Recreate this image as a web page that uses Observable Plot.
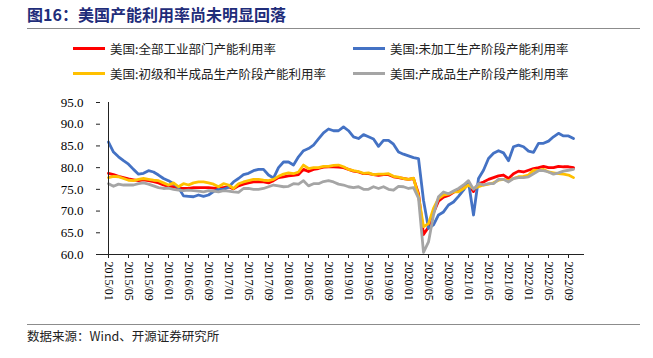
<!DOCTYPE html>
<html><head><meta charset="utf-8">
<script src="https://cdn.jsdelivr.net/npm/d3@7"></script>
<script src="https://cdn.jsdelivr.net/npm/@observablehq/plot@0.6"></script>
<style>
body{margin:0;background:#fff;}
#wrap{position:relative;width:653px;height:358px;overflow:hidden;font-family:"Noto Sans CJK SC",sans-serif;background:#fff;}
.title{position:absolute;left:27px;top:3px;font-size:16px;font-weight:bold;color:#1f2d7a;white-space:nowrap;line-height:22px;}
.hr{position:absolute;left:27px;width:613px;height:0;border-top:1.5px solid #8c8c8c;}
.leg{position:absolute;font-size:12.5px;color:#222;white-space:nowrap;display:flex;align-items:center;height:18px;}
.sw{display:inline-block;width:32px;height:3px;margin-right:5px;}
#chart{position:absolute;left:0;top:90px;}
#chart svg, #chart svg text{font-family:"Liberation Serif","Times New Roman",serif !important;}
.src{position:absolute;left:27px;top:327px;font-size:12.5px;color:#222;white-space:nowrap;line-height:18px;}
</style></head>
<body>
<div id="wrap">
  <div class="title">图16：美国产能利用率尚未明显回落</div>
  <div class="hr" style="top:28px"></div>
  <div id="legend"></div>
  <div id="chart"></div>
  <div class="hr" style="top:324px"></div>
  <div class="src">数据来源：Wind、开源证券研究所</div>
</div>
<script>
// Categories: monthly 2015/01 .. 2022/10
const categories = [];
for (let y = 2015; y <= 2022; y++) for (let m = 1; m <= 12; m++) categories.push(`${y}/${String(m).padStart(2, "0")}`);
categories.length = 94;
const tickLabels = categories.filter((d, i) => i % 4 === 0);
const yTicks = [60, 65, 70, 75, 80, 85, 90, 95];

const seriesNames = ["美国:全部工业部门产能利用率", "美国:未加工生产阶段产能利用率", "美国:初级和半成品生产阶段产能利用率", "美国:产成品生产阶段产能利用率"];
const seriesColors = ["#ff0000", "#4472c4", "#ffc000", "#a5a5a5"];

const totalIndustry = [78.7,78.4,78.0,77.7,77.4,77.2,77.0,77.2,77.0,76.8,76.5,76.0,75.7,75.6,75.3,75.2,75.2,75.4,75.4,75.4,75.4,75.3,75.2,75.4,75.6,75.1,75.8,76.2,76.5,76.7,76.8,76.7,76.5,77.0,77.7,77.9,78.1,78.2,78.4,79.6,79.1,79.6,79.8,80.1,80.2,80.2,80.1,80.0,79.6,79.2,79.0,78.6,78.6,78.4,78.2,78.4,78.4,77.9,77.7,77.5,77.3,77.5,74.0,64.6,66.3,69.6,72.3,73.2,73.6,74.3,75.0,75.6,76.0,74.5,76.3,76.7,77.3,77.7,78.1,78.3,77.5,78.6,79.2,79.0,79.4,79.8,80.0,80.3,80.0,80.0,80.3,80.2,80.2,80.0];
const crude = [85.9,83.6,82.5,81.6,80.8,79.6,78.5,78.7,79.3,79.0,78.3,77.5,77.0,76.3,75.4,73.5,73.4,73.3,73.7,73.4,73.7,74.5,75.0,75.0,75.5,76.7,77.5,78.4,78.7,79.3,79.6,79.6,78.3,77.6,80.0,81.3,81.3,80.6,82.5,83.9,84.4,85.2,86.6,88.0,88.9,88.5,88.5,89.4,88.5,87.1,86.7,87.6,87.1,86.6,84.9,86.3,86.3,85.4,83.6,83.1,82.7,82.3,82.1,72.5,66.0,66.8,69.1,69.8,71.4,72.1,73.4,74.8,76.7,69.1,77.5,79.4,82.1,83.3,83.9,83.4,81.6,84.8,85.2,84.8,83.8,83.5,85.6,85.6,86.1,87.1,87.9,87.3,87.3,86.7];
const primarySemi = [77.7,78.0,77.9,77.5,77.1,77.0,77.3,77.5,77.3,77.1,77.0,76.5,76.0,76.5,75.6,76.3,76.0,76.5,76.7,76.7,76.5,76.2,75.6,76.3,76.0,75.2,76.3,76.7,77.0,77.3,77.3,77.1,77.0,77.3,78.0,78.5,78.8,78.6,79.0,80.6,79.8,80.0,80.0,80.3,80.3,80.5,80.6,80.2,79.6,79.3,79.1,78.7,78.8,78.4,78.5,78.5,78.6,78.0,77.8,77.5,77.3,77.6,73.5,66.4,67.1,70.6,72.9,73.7,73.9,74.4,74.4,75.2,76.0,75.2,75.6,76.0,76.2,76.5,77.1,77.3,77.0,77.5,77.9,78.0,78.3,79.4,79.3,79.6,79.0,78.8,78.6,78.5,78.3,77.7];
const finished = [76.3,75.7,76.2,76.0,76.0,76.0,76.3,76.5,76.2,75.8,75.4,75.2,75.3,75.0,74.8,74.7,74.8,74.7,74.6,74.4,74.7,74.6,74.4,74.7,74.6,74.4,74.3,75.2,75.2,75.0,75.0,75.2,75.6,76.0,75.8,75.6,75.7,76.3,76.2,77.0,75.8,76.3,76.3,76.8,77.0,76.7,76.2,76.0,75.6,75.4,75.6,75.0,75.0,75.6,75.2,75.6,75.0,74.8,75.7,75.6,75.2,75.4,73.0,60.5,62.9,69.1,73.3,74.4,74.0,74.6,75.2,76.0,77.0,75.0,76.3,76.0,76.3,76.3,77.3,77.3,76.7,77.5,77.7,77.7,77.9,78.6,79.3,79.3,79.0,78.5,78.8,79.2,79.4,79.6];

const allSeries = [totalIndustry, crude, primarySemi, finished];

// Legend (HTML)
const legPos = [[73, 39.5], [353, 39.5], [73, 64.5], [353, 64.5]];
const legend = document.getElementById("legend");
seriesNames.forEach((name, k) => {
  const d = document.createElement("div");
  d.className = "leg";
  d.style.left = legPos[k][0] + "px";
  d.style.top = legPos[k][1] + "px";
  d.innerHTML = `<span class="sw" style="background:${seriesColors[k]}"></span><span>${name}</span>`;
  legend.appendChild(d);
});

const rows = [];
allSeries.forEach((arr, k) => arr.forEach((v, i) => rows.push({month: categories[i], value: v, series: seriesNames[k]})));

const lineMarks = seriesNames.map((name, k) =>
  Plot.lineY(rows.filter(r => r.series === name), {x: "month", y: "value", stroke: seriesColors[k], strokeWidth: 2.8, strokeLinejoin: "round"})
);

const serif = "'Liberation Serif', 'Times New Roman', serif";
const chart = Plot.plot({
  width: 653,
  height: 225,
  marginTop: 12,
  marginBottom: 61,
  marginLeft: 96,
  marginRight: 69,
  style: {fontFamily: serif, fontSize: "13px", color: "#000", background: "transparent"},
  x: {type: "point", domain: categories, padding: 0},
  y: {domain: [60, 95]},
  marks: [
    ...lineMarks,
    Plot.ruleY([60], {stroke: "#222", strokeWidth: 1}),
    Plot.ruleX([categories[0]], {y1: 60, y2: 95, stroke: "#222", strokeWidth: 1}),
    Plot.axisY({ticks: yTicks, tickFormat: d => d.toFixed(1), tickSize: -4, tickPadding: 17, label: null, stroke: "#222", fontSize: 13, fontFamily: serif}),
    Plot.axisX({ticks: tickLabels, tickRotate: 90, tickSize: 4, tickPadding: 3, label: null, stroke: "#222", fontSize: 12, fontFamily: serif})
  ]
});
document.getElementById("chart").appendChild(chart);
</script>
</body></html>
